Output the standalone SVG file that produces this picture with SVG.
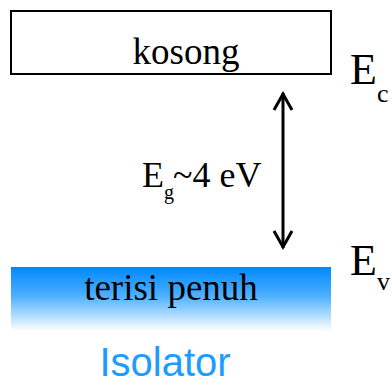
<svg xmlns="http://www.w3.org/2000/svg" width="392" height="385" viewBox="0 0 392 385">
<defs>
<linearGradient id="fill" x1="0" y1="0" x2="0" y2="1">
<stop offset="0" stop-color="#0088ff"/>
<stop offset="0.45" stop-color="#4cb0ff"/>
<stop offset="1" stop-color="#ffffff"/>
</linearGradient>
<style>
.t{font-family:"Liberation Serif","Times New Roman",serif;fill:#000}
.arr{fill:none;stroke:#000;stroke-width:3}
</style>
</defs>
<rect width="392" height="385" fill="#fff"/>
<g id="kosong">
<rect x="11" y="11" width="320" height="63" fill="#fff" stroke="#000" stroke-width="2"/>
<text class="t" x="186" y="64" font-size="37" text-anchor="middle">kosong</text>
</g>
<g id="terisi">
<rect x="11" y="267" width="320" height="64" fill="url(#fill)"/>
<text class="t" x="171" y="300" font-size="37" text-anchor="middle">terisi penuh</text>
</g>
<g id="Ec">
<text class="t" x="350" y="84" font-size="44">E<tspan font-size="26" dy="18">c</tspan></text>
</g>
<g id="Ev">
<text class="t" x="350" y="275" font-size="44">E<tspan font-size="26" dy="15">v</tspan></text>
</g>
<g id="Eg">
<text class="t" x="142" y="187" font-size="36">E<tspan font-size="20" dy="12">g</tspan><tspan dy="-12" dx="-1">~4 eV</tspan></text>
</g>
<g id="label">
<text x="165" y="376" font-size="40" text-anchor="middle" font-family="Liberation Sans, Arial, sans-serif" fill="#1e9bff">Isolator</text>
</g>
<g id="connectors">
<line class="arr" x1="283" y1="93" x2="283" y2="248"/>
<polyline class="arr" points="274,110 283,94 292,110"/>
<polyline class="arr" points="274,231 283,247 292,231"/>
</g>
</svg>
